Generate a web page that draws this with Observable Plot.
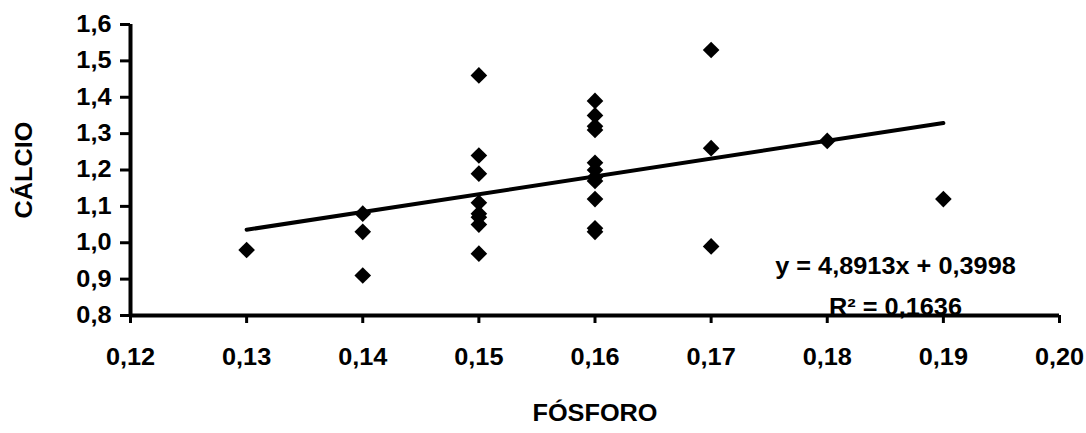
<!DOCTYPE html>
<html>
<head>
<meta charset="utf-8">
<script src="https://cdn.jsdelivr.net/npm/d3@7"></script>
<script src="https://cdn.jsdelivr.net/npm/@observablehq/plot@0.6"></script>
<style>
  html, body { margin: 0; padding: 0; background: #fff; }
  #chart svg { display: block; }
</style>
</head>
<body>
<div id="chart"></div>
<script>
// Data
const fosforo = [
  0.13,
  0.14, 0.14, 0.14,
  0.15, 0.15, 0.15, 0.15, 0.15, 0.15, 0.15, 0.15,
  0.16, 0.16, 0.16, 0.16, 0.16, 0.16, 0.16, 0.16, 0.16, 0.16, 0.16,
  0.17, 0.17, 0.17,
  0.18,
  0.19
];
const calcio = [
  0.98,
  1.08, 1.03, 0.91,
  1.46, 1.24, 1.19, 1.11, 1.08, 1.07, 1.05, 0.97,
  1.39, 1.35, 1.32, 1.31, 1.22, 1.20, 1.18, 1.17, 1.12, 1.04, 1.03,
  1.53, 1.26, 0.99,
  1.28,
  1.12
];
const slope = 4.8913;
const intercept = 0.3998;
const r2 = 0.1636;
const xTicks = [0.12, 0.13, 0.14, 0.15, 0.16, 0.17, 0.18, 0.19, 0.20];
const yTicks = [0.8, 0.9, 1.0, 1.1, 1.2, 1.3, 1.4, 1.5, 1.6];
const xLabel = "FÓSFORO";
const yLabel = "CÁLCIO";

const comma = (v, d) => v.toFixed(d).replace(".", ",");
const points = fosforo.map((x, i) => ({x, y: calcio[i]}));
const [xMin, xMax] = d3.extent(fosforo);
const trend = [xMin, xMax].map(x => ({x, y: slope * x + intercept}));
const eqText = `y = ${comma(slope, 4)}x + ${comma(intercept, 4)}`;
const r2Text = `R² = ${comma(r2, 4)}`;

const FS = 23;
const chart = Plot.plot({
  width: 1086,
  height: 433,
  marginLeft: 130,
  marginRight: 27,
  marginTop: 24,
  marginBottom: 118,
  style: {fontFamily: "'Liberation Sans', Arial, sans-serif", fontWeight: "bold", fontSize: FS + "px", color: "#000", background: "#fff"},
  x: {domain: [xTicks[0], xTicks[xTicks.length - 1]]},
  y: {domain: [yTicks[0], yTicks[yTicks.length - 1]]},
  marks: [
    Plot.axisY({ticks: yTicks, tickFormat: d => comma(d, 1), tickSize: 10, tickPadding: 9, strokeWidth: 3, fontSize: FS, label: null}),
    Plot.axisX({ticks: xTicks, tickFormat: d => comma(d, 2), tickSize: 8, tickPadding: 25, strokeWidth: 3, fontSize: FS, label: null}),
    Plot.text([yLabel], {frameAnchor: "left", textAnchor: "middle", dx: -106, rotate: -90, fontSize: FS, fontWeight: "bold"}),
    Plot.text([xLabel], {frameAnchor: "bottom", dy: 105, fontSize: FS, fontWeight: "bold"}),
    Plot.line(trend, {x: "x", y: "y", stroke: "#000", strokeWidth: 4}),
    Plot.dot(points, {x: "x", y: "y", symbol: "diamond2", r: 7.5, fill: "#000", stroke: "none"}),
    Plot.text([eqText], {frameAnchor: "bottom-right", dx: -164, dy: -42, textAnchor: "middle", fontSize: FS, fontWeight: "bold"}),
    Plot.text([r2Text], {frameAnchor: "bottom-right", dx: -164, dy: -1, textAnchor: "middle", fontSize: FS, fontWeight: "bold"}),
    Plot.ruleX([xTicks[0]], {y1: yTicks[0], y2: yTicks[yTicks.length - 1], stroke: "#000", strokeWidth: 4}),
    Plot.ruleY([yTicks[0]], {x1: xTicks[0], x2: xTicks[xTicks.length - 1], stroke: "#000", strokeWidth: 4})
  ]
});
document.getElementById("chart").appendChild(chart);

// slight horizontal font stretch to match the wide lettering of the original
const S = 1.1;
d3.select(chart).selectAll("text").each(function() {
  const len = this.getComputedTextLength();
  if (len > 0) {
    this.setAttribute("textLength", (len * S).toFixed(2));
    this.setAttribute("lengthAdjust", "spacingAndGlyphs");
  }
});
</script>
</body>
</html>
